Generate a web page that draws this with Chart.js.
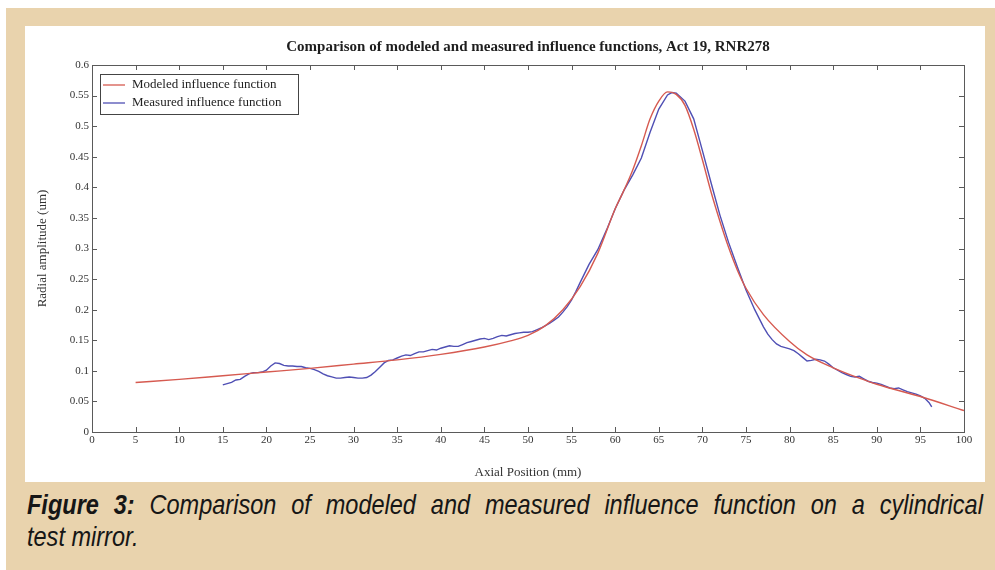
<!DOCTYPE html>
<html>
<head>
<meta charset="utf-8">
<script src="https://cdn.jsdelivr.net/npm/chart.js@4.4.1/dist/chart.umd.min.js"></script>
<style>
    html, body { margin: 0; padding: 0; background: #ffffff; }
    body { width: 995px; height: 570px; position: relative; overflow: hidden; }
    .frame { position: absolute; left: 6px; top: 8px; width: 989px; height: 562px; background: #e9d3ad; }
    .panel { position: absolute; left: 25px; top: 26px; width: 960px; height: 456px; background: #ffffff; }
    .caption {
        position: absolute; left: 27px; top: 489px; width: 1138px;
        transform: scaleX(0.84); transform-origin: 0 0;
        font-family: "Liberation Sans", Arial, sans-serif;
        font-style: italic; font-size: 28px; line-height: 32px;
        color: #161616; white-space: nowrap;
    }
    .caption .first { text-align: justify; text-align-last: justify; white-space: normal; }
    .caption b { font-weight: bold; }
</style>
</head>
<body>
<div class="frame"></div>
<div class="panel"><canvas id="influence-chart" width="960" height="456"></canvas></div>
<div class="caption">
    <div class="first"><b>Figure 3:</b> Comparison of modeled and measured influence function on a cylindrical</div>
    <div>test mirror.</div>
</div>

<script>
const chartTitle = 'Comparison of modeled and measured influence functions, Act 19, RNR278'
const xTitle = 'Axial Position (mm)'
const yTitle = 'Radial amplitude (um)'
const seriesNames = ['Modeled influence function', 'Measured influence function']

const xTicks = [0, 5, 10, 15, 20, 25, 30, 35, 40, 45, 50, 55, 60, 65, 70, 75, 80, 85, 90, 95, 100]
const yTicks = [0, 0.05, 0.1, 0.15, 0.2, 0.25, 0.3, 0.35, 0.4, 0.45, 0.5, 0.55, 0.6]

// modeled curve (red)
const modeledX = [5, 10, 15, 20, 25, 30, 35, 40, 45, 48, 50, 52, 54, 56, 58, 60, 61, 62, 63, 64, 65, 66, 67, 68, 69, 70,
    71, 72, 73, 74, 75, 77, 80, 82, 85, 88, 90, 95, 100]
const modeledY = [0.081, 0.086, 0.092, 0.098, 0.104, 0.111, 0.118, 0.127, 0.139, 0.149, 0.158, 0.174, 0.2, 0.238, 0.292,
    0.365, 0.395, 0.428, 0.468, 0.512, 0.541, 0.556, 0.552, 0.534, 0.495, 0.445, 0.392, 0.345, 0.302, 0.265, 0.235,
    0.192, 0.148, 0.126, 0.105, 0.088, 0.078, 0.058, 0.035]

// measured curve (blue)
const measuredX = [15, 15.5, 16, 16.5, 17, 17.5, 18, 18.5, 19, 19.5, 20, 20.5, 21, 21.5, 22, 22.5, 23, 23.5, 24, 24.5,
    25, 25.5, 26, 26.5, 27, 27.5, 28, 28.5, 29, 29.5, 30, 30.5, 31, 31.5, 32, 32.5, 33, 33.5, 34, 34.5, 35, 35.5, 36,
    36.5, 37, 37.5, 38, 38.5, 39, 39.5, 40, 40.5, 41, 41.5, 42, 42.5, 43, 43.5, 44, 44.5, 45, 45.5, 46, 46.5, 47, 47.5,
    48, 48.5, 49, 49.5, 50, 50.5, 51, 51.5, 52, 52.5, 53, 53.5, 54, 54.5, 55, 55.5, 56, 57, 58, 59, 60, 61, 62, 63, 64,
    65, 66, 66.5, 67, 68, 69, 70, 71, 72, 73, 74, 75, 76, 77, 77.5, 78, 78.5, 79, 79.5, 80, 80.5, 81, 81.5, 82, 82.5,
    83, 83.5, 84, 84.5, 85, 85.5, 86, 86.5, 87, 87.5, 88, 88.5, 89, 89.5, 90, 90.5, 91, 91.5, 92, 92.5, 93, 93.5, 94,
    94.5, 95, 95.5, 96, 96.3]
const measuredY = [0.077, 0.079, 0.081, 0.085, 0.086, 0.091, 0.095, 0.097, 0.097, 0.098, 0.101, 0.108, 0.113, 0.112,
    0.109, 0.108, 0.108, 0.107, 0.107, 0.105, 0.104, 0.102, 0.099, 0.095, 0.092, 0.09, 0.088, 0.088, 0.089, 0.09, 0.089,
    0.088, 0.088, 0.089, 0.093, 0.099, 0.106, 0.113, 0.117, 0.118, 0.121, 0.124, 0.126, 0.125, 0.128, 0.131, 0.131,
    0.133, 0.135, 0.134, 0.137, 0.139, 0.141, 0.14, 0.14, 0.143, 0.146, 0.148, 0.15, 0.152, 0.153, 0.151, 0.153, 0.156,
    0.158, 0.157, 0.159, 0.161, 0.162, 0.163, 0.163, 0.164, 0.167, 0.17, 0.174, 0.178, 0.183, 0.188, 0.196, 0.205,
    0.216, 0.23, 0.245, 0.274, 0.298, 0.33, 0.365, 0.395, 0.42, 0.448, 0.49, 0.528, 0.551, 0.555, 0.554, 0.541, 0.512,
    0.46, 0.407, 0.355, 0.31, 0.27, 0.232, 0.2, 0.172, 0.16, 0.151, 0.144, 0.14, 0.138, 0.136, 0.133, 0.128, 0.122,
    0.116, 0.117, 0.119, 0.118, 0.116, 0.111, 0.105, 0.101, 0.097, 0.094, 0.091, 0.09, 0.091, 0.087, 0.083, 0.081,
    0.08, 0.078, 0.075, 0.072, 0.071, 0.072, 0.069, 0.066, 0.064, 0.062, 0.059, 0.055, 0.048, 0.041]

const modeledColor = '#d65a50'
const measuredColor = '#4f4fb4'
const serif = "'Liberation Serif', 'Times New Roman', serif"

function toPoints(xs, ys) {
    return xs.map((x, i) => ({ x: x, y: ys[i] }))
}

// matlab style box, inward ticks and legend
const matlabAxes = {
    id: 'matlabAxes',
    afterDraw(chart) {
        const ctx = chart.ctx
        const area = chart.chartArea
        const xs = chart.scales.x
        const ys = chart.scales.y
        const tick = 5

        ctx.save()
        ctx.strokeStyle = '#5a5a5a'
        ctx.lineWidth = 1
        ctx.strokeRect(area.left + 0.5, area.top + 0.5, area.right - area.left, area.bottom - area.top)

        ctx.beginPath()
        xTicks.forEach(v => {
            const px = Math.round(xs.getPixelForValue(v)) + 0.5
            ctx.moveTo(px, area.bottom)
            ctx.lineTo(px, area.bottom - tick)
            ctx.moveTo(px, area.top)
            ctx.lineTo(px, area.top + tick)
        })
        yTicks.forEach(v => {
            const py = Math.round(ys.getPixelForValue(v)) + 0.5
            ctx.moveTo(area.left, py)
            ctx.lineTo(area.left + tick, py)
            ctx.moveTo(area.right, py)
            ctx.lineTo(area.right - tick, py)
        })
        ctx.stroke()

        // legend box
        const lx = area.left + 8
        const ly = area.top + 9
        ctx.fillStyle = '#ffffff'
        ctx.fillRect(lx, ly, 198, 40)
        ctx.strokeStyle = '#444444'
        ctx.strokeRect(lx + 0.5, ly + 0.5, 198, 40)
        ctx.font = '13px ' + serif
        ctx.textBaseline = 'middle'
        chart.data.datasets.forEach((ds, i) => {
            const rowY = ly + 11 + i * 18
            ctx.strokeStyle = ds.borderColor
            ctx.lineWidth = 1.3
            ctx.beginPath()
            ctx.moveTo(lx + 3, rowY)
            ctx.lineTo(lx + 25, rowY)
            ctx.stroke()
            ctx.fillStyle = '#222222'
            ctx.fillText(ds.label, lx + 32, rowY)
        })
        ctx.restore()
    }
}

function renderInfluenceChart() {
    const ctx = document.getElementById('influence-chart')
    new Chart(ctx, {
        type: 'line',
        data: {
            datasets: [{
                label: seriesNames[0],
                data: toPoints(modeledX, modeledY),
                borderColor: modeledColor,
                borderWidth: 1.4,
                pointRadius: 0,
                cubicInterpolationMode: 'monotone',
                fill: false
            }, {
                label: seriesNames[1],
                data: toPoints(measuredX, measuredY),
                borderColor: measuredColor,
                borderWidth: 1.4,
                pointRadius: 0,
                tension: 0,
                fill: false
            }]
        },
        options: {
            responsive: false,
            animation: false,
            events: [],
            layout: { padding: { left: 0, right: 21, top: 0, bottom: 0 } },
            plugins: {
                legend: { display: false },
                tooltip: { enabled: false },
                title: {
                    display: true,
                    text: chartTitle,
                    fullSize: false,
                    color: '#1e1e1e',
                    font: { family: serif, size: 15, weight: 'bold' },
                    padding: { top: 12, bottom: 9 }
                }
            },
            scales: {
                x: {
                    type: 'linear',
                    min: 0,
                    max: 100,
                    afterFit: scale => { scale.height = 50 },
                    afterBuildTicks: scale => { scale.ticks = xTicks.map(v => ({ value: v })) },
                    grid: { display: false, drawTicks: false },
                    border: { display: false },
                    ticks: {
                        autoSkip: false,
                        maxRotation: 0,
                        padding: 2,
                        color: '#333333',
                        font: { family: serif, size: 11 }
                    },
                    title: {
                        display: true,
                        text: xTitle,
                        color: '#333333',
                        font: { family: serif, size: 13 },
                        padding: { top: 2, bottom: 2 }
                    }
                },
                y: {
                    type: 'linear',
                    min: 0,
                    max: 0.6,
                    afterFit: scale => { scale.width = 67 },
                    afterBuildTicks: scale => { scale.ticks = yTicks.map(v => ({ value: v })) },
                    grid: { display: false, drawTicks: false },
                    border: { display: false },
                    ticks: {
                        autoSkip: false,
                        padding: 3,
                        color: '#333333',
                        font: { family: serif, size: 11 },
                        callback: value => String(+value.toFixed(2))
                    },
                    title: {
                        display: true,
                        text: yTitle,
                        color: '#333333',
                        font: { family: serif, size: 13 },
                        padding: { top: 10, bottom: 10 }
                    }
                }
            }
        },
        plugins: [matlabAxes]
    })
}

renderInfluenceChart()
</script>
</body>
</html>
